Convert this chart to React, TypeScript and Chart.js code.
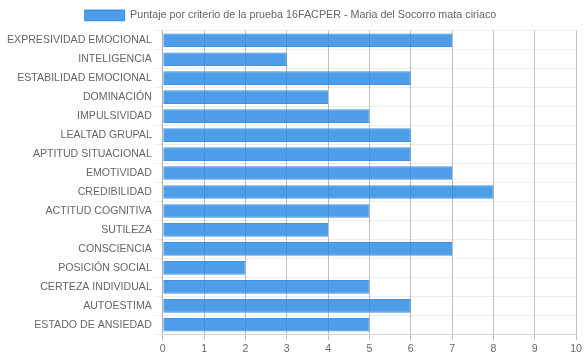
import React, { useEffect, useRef } from "react";
import { Chart, registerables } from "chart.js";

Chart.register(...registerables);

const categories = [
  "EXPRESIVIDAD EMOCIONAL",
  "INTELIGENCIA",
  "ESTABILIDAD EMOCIONAL",
  "DOMINACIÓN",
  "IMPULSIVIDAD",
  "LEALTAD GRUPAL",
  "APTITUD SITUACIONAL",
  "EMOTIVIDAD",
  "CREDIBILIDAD",
  "ACTITUD COGNITIVA",
  "SUTILEZA",
  "CONSCIENCIA",
  "POSICIÓN SOCIAL",
  "CERTEZA INDIVIDUAL",
  "AUTOESTIMA",
  "ESTADO DE ANSIEDAD",
];
const scores = [7, 3, 6, 4, 5, 6, 6, 7, 8, 5, 4, 7, 2, 5, 6, 5];
const seriesLabel = "Puntaje por criterio de la prueba 16FACPER - Maria del Socorro mata ciriaco";

const FONT = "Arial, 'Liberation Sans'";

export default function App() {
  const ref = useRef<HTMLCanvasElement>(null);
  useEffect(() => {
    document.body.style.margin = "0";
    const chart = new Chart(ref.current!, {
      type: "bar",
      data: {
        labels: categories,
        datasets: [
          {
            label: seriesLabel,
            data: scores,
            backgroundColor: "rgba(34,132,228,0.8)",
            borderColor: "rgba(30,128,226,0.85)",
            borderWidth: 1,
          },
        ],
      },
      options: {
        indexAxis: "y",
        animation: false,
        responsive: false,
        maintainAspectRatio: false,
        layout: { padding: { left: 4, right: 7, top: 0, bottom: 2 } },
        plugins: {
          legend: {
            labels: {
              color: "#666",
              font: { family: FONT, size: 10.75 },
              boxWidth: 40,
            },
          },
          tooltip: { enabled: false },
        },
        scales: {
          x: {
            min: 0,
            max: 10,
            ticks: { stepSize: 1, color: "#666", padding: 2, font: { family: FONT, size: 10.6 } },
            grid: { color: "rgba(0,0,0,0.25)", tickLength: 6 },
          },
          y: {
            ticks: { color: "#666", padding: 3, font: { family: FONT, size: 10.6 } },
            grid: { color: "rgba(0,0,0,0.07)", tickLength: 8 },
          },
        },
      },
    });
    return () => chart.destroy();
  }, []);
  return (
    <div style={{ width: 584, height: 359 }}>
      <canvas ref={ref} width={584} height={359} />
    </div>
  );
}
